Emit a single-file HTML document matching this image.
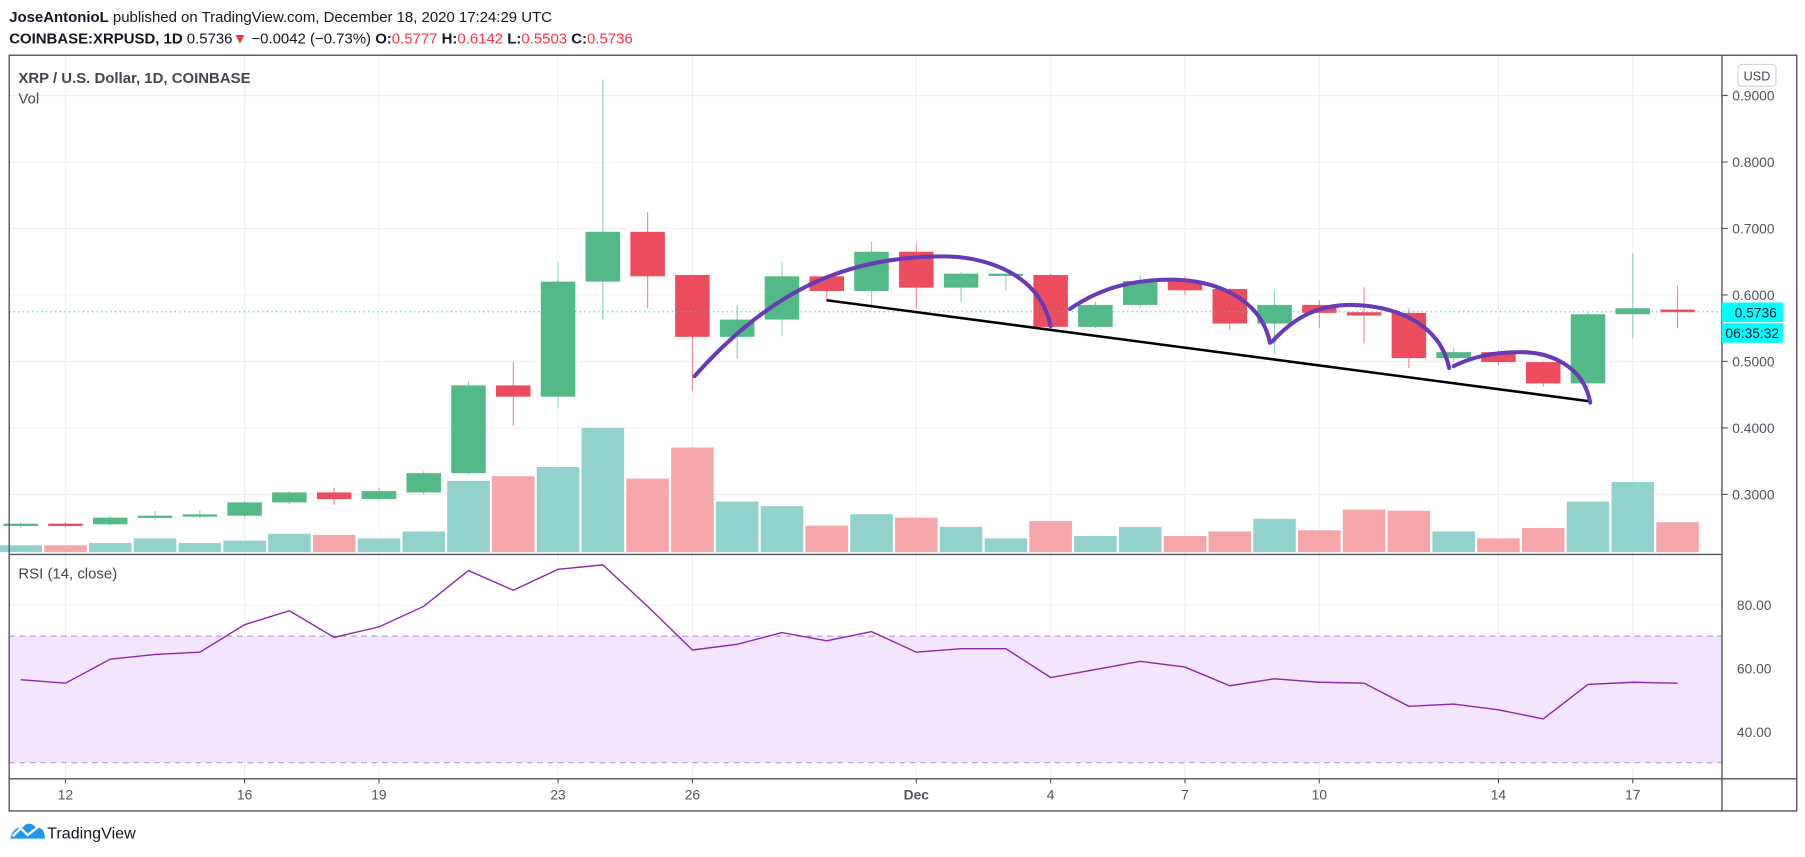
<!DOCTYPE html>
<html><head><meta charset="utf-8"><style>
html,body{margin:0;padding:0;background:#fff;width:1805px;height:857px;overflow:hidden}
svg{display:block;font-family:"Liberation Sans",sans-serif}
</style></head><body>
<svg id="c" width="1805" height="857" viewBox="0 0 1569.2 745">
<g id="hdr">
<text x="8" y="19" font-size="13" fill="#131722"><tspan font-weight="bold">JoseAntonioL</tspan> published on TradingView.com, December 18, 2020 17:24:29 UTC</text>
<text x="8" y="38" font-size="13" fill="#131722"><tspan font-weight="bold">COINBASE:XRPUSD, 1D</tspan> 0.5736<tspan fill="#f23645">▼</tspan> −0.0042 (−0.73%) <tspan font-weight="bold">O:</tspan><tspan fill="#f23645">0.5777</tspan> <tspan font-weight="bold">H:</tspan><tspan fill="#f23645">0.6142</tspan> <tspan font-weight="bold">L:</tspan><tspan fill="#f23645">0.5503</tspan> <tspan font-weight="bold">C:</tspan><tspan fill="#f23645">0.5736</tspan></text>
</g>
<g id="grid"></g>
<rect x="8" y="553" width="1489" height="110" fill="#f3e5fe"/>
<line x1="8" x2="1497" y1="553" y2="553" stroke="#b39ddb" stroke-dasharray="5,4"/>
<line x1="8" x2="1497" y1="663" y2="663" stroke="#b39ddb" stroke-dasharray="5,4"/>
<g id="vol"></g>
<g id="candles"></g>
<line x1="8" x2="1497" y1="271" y2="271" stroke="#26c6da" stroke-dasharray="1,3"/>
<g id="draw"></g>
<g id="rsi"></g>
<text x="16" y="72" font-size="13" font-weight="bold" fill="#434651">XRP / U.S. Dollar, 1D, COINBASE</text>
<text x="16" y="90" font-size="13" fill="#434651">Vol</text>
<text x="16" y="503" font-size="13" fill="#434651">RSI (14, close)</text>
<rect x="8" y="48" width="1554" height="657" fill="none" stroke="#50535e" stroke-width="1.2"/>
<line x1="1497" x2="1497" y1="48" y2="705" stroke="#50535e" stroke-width="1.2"/>
<line x1="8" x2="1497" y1="482" y2="482" stroke="#50535e" stroke-width="1.2"/>
<line x1="8" x2="1562" y1="677" y2="677" stroke="#50535e" stroke-width="1.2"/>
<g id="axes"></g>
<rect x="1511" y="56" width="33" height="19" rx="3" fill="#fff" stroke="#d1d4dc"/>
<text x="1527.5" y="70" font-size="11" fill="#434651" text-anchor="middle">USD</text>
<rect x="1497" y="263" width="53" height="17" fill="#00ffff"/>
<text x="1508" y="276" font-size="12" fill="#131722">0.5736</text>
<rect x="1497" y="281" width="53" height="17" fill="#00ffff"/>
<text x="1500" y="294" font-size="12" fill="#131722">06:35:32</text>
<g>
<path d="M9 729 q2-10 11-10 q5-6 11 0 q8 0 8 10 z" fill="#2196f3"/>
<polyline points="11,727 18,720 24,726 33,719" fill="none" stroke="#fff" stroke-width="2"/>
<text x="41" y="729" font-size="14" fill="#131722">TradingView</text>
</g>
</svg>
<script>
const dates=["11","12","13","14","15","16","17","18","19","20","21","22","23","24","25","26","27","28","29","30","Dec","2","3","4","5","6","7","8","9","10","11","12","13","14","15","16","17","18"];
const opens=[.254,.256,.255,.265,.268,.268,.288,.303,.293,.303,.332,.464,.447,.62,.695,.63,.537,.563,.628,.606,.665,.611,.629,.63,.552,.585,.621,.609,.557,.585,.574,.573,.505,.514,.499,.467,.571,.578];
const highs=[.258,.258,.268,.275,.276,.29,.305,.31,.31,.335,.47,.499,.649,.924,.725,.63,.585,.649,.63,.68,.676,.635,.632,.632,.59,.63,.628,.61,.607,.592,.612,.58,.52,.517,.5,.575,.663,.614];
const lows=[.25,.25,.252,.262,.264,.265,.285,.284,.29,.3,.33,.403,.43,.563,.58,.455,.504,.538,.59,.58,.58,.59,.606,.55,.55,.58,.6,.547,.512,.55,.527,.49,.5,.495,.462,.46,.535,.55];
const closes=[.256,.254,.265,.268,.27,.288,.303,.293,.305,.332,.464,.447,.62,.695,.628,.537,.563,.628,.606,.665,.611,.632,.632,.552,.585,.621,.607,.557,.585,.573,.569,.505,.514,.499,.467,.571,.58,.574];
const volumes=[6,6,8,12,8,10,16,15,12,18,62,66,74,108,64,91,44,40,23,33,30,22,12,27,14,22,14,18,29,19,37,36,18,12,21,44,61,26];
const rsiValues=[56.4,55.3,62.9,64.4,65.1,73.8,78.2,69.8,73.1,79.6,90.9,84.7,91.3,92.7,79.6,65.8,67.6,71.3,68.7,71.6,65.1,66.2,66.2,57.1,59.6,62.2,60.4,54.5,56.7,55.6,55.3,48,48.7,46.9,44,54.9,55.6,55.3];
const priceTicks=[0.3,0.4,0.5,0.6,0.7,0.8,0.9];
const rsiTicks=[40,60,80];
const timeTickIdx=[1,5,8,12,15,20,23,26,29,33,36];
const NS="http://www.w3.org/2000/svg";
const xs=i=>18+i*38.93;
const ys=p=>83+(0.9-p)*578;
const yr=v=>526+(80-v)*2.75;
const yv=v=>480-v;
function mk(tag,parent,attrs){const e=document.createElementNS(NS,tag);for(const k in attrs)e.setAttribute(k,attrs[k]);document.getElementById(parent).appendChild(e);return e;}
priceTicks.forEach(p=>{const l=mk('line','grid',{x1:8,x2:1497,y1:ys(p),y2:ys(p),stroke:'#eef0f4'});


const t=mk('text','axes',{x:1506,y:ys(p)+4.5,'font-size':12,fill:'#50535e'});t.textContent=p.toFixed(4);


const tk=mk('line','axes',{x1:1497,x2:1502,y1:ys(p),y2:ys(p),stroke:'#50535e'});

});
rsiTicks.forEach(v=>{const l=mk('line','grid',{x1:8,x2:1497,y1:yr(v),y2:yr(v),stroke:'#eef0f4'});


const t=mk('text','axes',{x:1510,y:yr(v)+4.5,'font-size':12,fill:'#50535e'});t.textContent=v.toFixed(2);

});
timeTickIdx.forEach(i=>{const l=mk('line','grid',{x1:xs(i),x2:xs(i),y1:48,y2:677,stroke:'#eef0f4'});


const t=mk('text','axes',{x:xs(i),y:695,'font-size':12,fill:'#50535e','text-anchor':'middle','font-weight':dates[i]==='Dec'?'bold':'normal'});t.textContent=dates[i];


const tk=mk('line','axes',{x1:xs(i),x2:xs(i),y1:677,y2:681,stroke:'#50535e'});

});
volumes.forEach((v,i)=>{const up=closes[i]>=opens[i];const r=mk('rect','vol',{x:xs(i)-18.5,y:yv(v),width:37,height:v,fill:up?'#93d2cc':'#f6a6a8'});

});
opens.forEach((o,i)=>{const c=closes[i];const up=c>=o;const col=up?'#53b987':'#eb4d5c';
const w=mk('line','candles',{x1:xs(i),x2:xs(i),y1:ys(highs[i]),y2:ys(lows[i]),stroke:up?'#8fd0c4':'#f08a96','stroke-width':1});


const top=ys(Math.max(o,c)),h=Math.max(2,Math.abs(ys(o)-ys(c)));
const b=mk('rect','candles',{x:xs(i)-15,y:top,width:30,height:h,fill:col});

});
const rl=mk('polyline','rsi',{points:rsiValues.map((v,i)=>xs(i)+','+yr(v)).join(' '),fill:'none',stroke:'#8e24aa','stroke-width':1.2});


const trend=[[18,0.592],[35.05,0.44]];
const tl=mk('line','draw',{x1:xs(trend[0][0]),y1:ys(trend[0][1]),x2:xs(trend[1][0]),y2:ys(trend[1][1]),stroke:'#000','stroke-width':2.2});


const arcs=[[15.05,0.478,20.6,0.658,23,0.553],[23.43,0.579,25.7,0.623,27.9,0.528],[27.95,0.53,29.7,0.585,31.9,0.49],[32,0.493,33.5,0.514,35.05,0.438]];
arcs.forEach(a=>{const sx=xs(a[0]),sy=ys(a[1]),px=xs(a[2]),py=ys(a[3]),ex=xs(a[4]),ey=ys(a[5]);
const d1=px-sx,d2=ex-px;
const d=`M${sx},${sy} C${sx+0.3*d1},${sy+(py-sy)*0.7} ${px-0.4*d1},${py} ${px},${py} C${px+0.4*d2},${py} ${ex-0.1*d2},${ey+(py-ey)*0.75} ${ex},${ey}`;
const p=mk('path','draw',{d:d,fill:'none',stroke:'#673ab7','stroke-width':3.5,'stroke-linecap':'round'});

});
</script>
</body></html>
